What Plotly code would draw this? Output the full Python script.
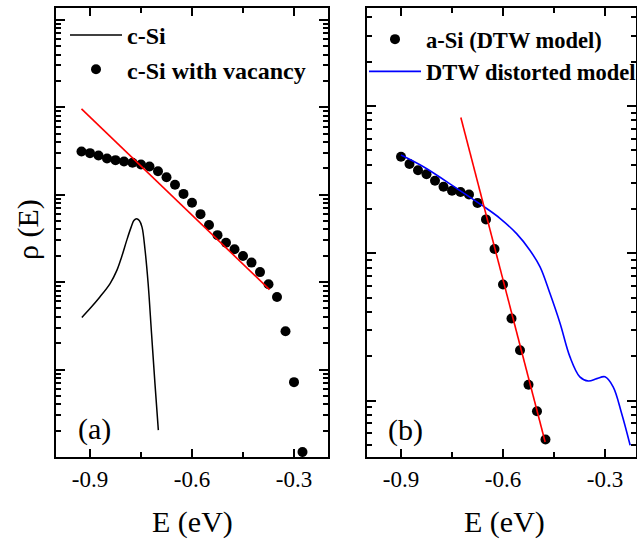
import plotly.graph_objects as go

# ---------------- data ----------------
# panel (a)
a_vac_x = [-0.925, -0.9, -0.875, -0.85, -0.825, -0.8, -0.775, -0.75, -0.725, -0.7,
           -0.675, -0.65, -0.625, -0.6, -0.575, -0.55, -0.525, -0.5, -0.475, -0.45,
           -0.425, -0.4, -0.375, -0.35, -0.325, -0.3, -0.275]
a_vac_y = [0.0311, 0.0298, 0.0280, 0.0259, 0.0248, 0.0239, 0.0231, 0.0221, 0.0210, 0.0185,
           0.0158, 0.0130, 0.0102, 0.00809, 0.00598, 0.00449, 0.00344, 0.00282, 0.00237, 0.00199,
           0.00167, 0.00130, 0.000944, 0.000676, 0.000274, 0.0000718, 0.0000114]
a_csi_x = [-0.924, -0.9, -0.871, -0.841, -0.821, -0.807, -0.792, -0.779, -0.771, -0.763,
           -0.755, -0.747, -0.738, -0.729, -0.719, -0.709, -0.699]
a_csi_y = [0.000394, 0.000498, 0.000676, 0.000962, 0.00136, 0.00194, 0.0030, 0.00425, 0.00505, 0.00531,
           0.00505, 0.00425, 0.00231, 0.000962, 0.000258, 0.0000695, 0.0000203]
a_fit_x = [-0.925, -0.372]
a_fit_y = [0.0957, 0.00082]

# panel (b)
b_dtw_x = [-0.9, -0.875, -0.85, -0.825, -0.8, -0.775, -0.75, -0.725, -0.7, -0.675,
           -0.65, -0.625, -0.6, -0.575, -0.55, -0.525, -0.5, -0.475]
b_dtw_y = [0.0453, 0.0404, 0.0367, 0.0344, 0.0311, 0.0283, 0.0266, 0.0261, 0.0251, 0.0220,
           0.0170, 0.0107, 0.00615, 0.00361, 0.00220, 0.00128, 0.000847, 0.000544]
b_dist_x = [-0.9, -0.834, -0.736, -0.658, -0.609, -0.56, -0.521, -0.491, -0.462, -0.432,
            -0.403, -0.374, -0.349, -0.324, -0.3, -0.276, -0.251, -0.226]
b_dist_y = [0.0465, 0.0387, 0.0276, 0.0209, 0.0173, 0.0136, 0.0105, 0.00809, 0.00535, 0.00334,
            0.00198, 0.00145, 0.00136, 0.00141, 0.00145, 0.00124, 0.000817, 0.000498]
b_fit_x = [-0.724, -0.476]
b_fit_y = [0.0837, 0.000524]

x_ticks = [-0.9, -0.6, -0.3]
x_tick_text = ["-0.9", "-0.6", "-0.3"]
x_minor = [-0.75, -0.45]

SERIF = "Liberation Serif"

fig = go.Figure()

# panel (a)
fig.add_trace(go.Scatter(x=a_csi_x, y=a_csi_y, mode="lines", name="c-Si",
                         line=dict(color="black", width=1.5, shape="spline"),
                         xaxis="x", yaxis="y", legend="legend"))
fig.add_trace(go.Scatter(x=a_vac_x, y=a_vac_y, mode="markers", name="c-Si with vacancy",
                         marker=dict(color="black", size=10),
                         xaxis="x", yaxis="y", legend="legend"))
fig.add_trace(go.Scatter(x=a_fit_x, y=a_fit_y, mode="lines", showlegend=False,
                         line=dict(color="#ff0000", width=1.6),
                         xaxis="x", yaxis="y"))

# panel (b)
fig.add_trace(go.Scatter(x=b_dtw_x, y=b_dtw_y, mode="markers", name="a-Si (DTW model)",
                         marker=dict(color="black", size=10),
                         xaxis="x2", yaxis="y2", legend="legend2"))
fig.add_trace(go.Scatter(x=b_dist_x, y=b_dist_y, mode="lines", name="DTW distorted model",
                         line=dict(color="#0000ff", width=1.6, shape="spline"),
                         xaxis="x2", yaxis="y2", legend="legend2"))
fig.add_trace(go.Scatter(x=b_fit_x, y=b_fit_y, mode="lines", showlegend=False,
                         line=dict(color="#ff0000", width=1.6),
                         xaxis="x2", yaxis="y2"))

W, H = 637, 540
L, R, T, B = 56, 1, 8, 83
pw, ph = W - L - R, H - T - B


def px_x(p):
    return (p - L) / pw


def px_y(p):
    return (H - B - p) / ph


def xaxis_cfg(rng, dom):
    return dict(type="linear", range=rng, domain=dom, showline=True, linecolor="black",
                linewidth=1.8, mirror="ticks", ticks="inside", ticklen=8, tickwidth=1.5,
                tickcolor="black", tickvals=x_ticks, ticktext=x_tick_text,
                tickfont=dict(family=SERIF, size=23, color="black"),
                ticklabelstandoff=0,
                minor=dict(tickvals=x_minor, ticks="inside", ticklen=5, tickwidth=1.5,
                           tickcolor="black"),
                showgrid=False, zeroline=False)


def decades(lo, hi):
    return [10.0 ** k for k in range(lo, hi + 1)]


def minors(lo, hi):
    return [m * 10.0 ** k for k in range(lo, hi + 1) for m in range(2, 10)]


def yaxis_cfg(rng, anchor, lo, hi):
    return dict(type="log", range=rng, anchor=anchor, domain=[0, 1], showline=True,
                linecolor="black", linewidth=1.8, mirror="ticks", ticks="inside",
                ticklen=9, tickwidth=1.5, tickcolor="black", tickvals=decades(lo, hi),
                showticklabels=False,
                minor=dict(tickvals=minors(lo - 1, hi), ticks="inside", ticklen=5,
                           tickwidth=1.5, tickcolor="black"),
                showgrid=False, zeroline=False)


fig.update_layout(
    width=W, height=H,
    margin=dict(l=L, r=R, t=T, b=B, autoexpand=False),
    paper_bgcolor="white", plot_bgcolor="white",
    font=dict(family=SERIF, color="black"),
    xaxis=xaxis_cfg([-1.0, -0.2], [0, px_x(328)]),
    yaxis=yaxis_cfg([-5.0, 0.134], "x", -5, 0),
    xaxis2=xaxis_cfg([-1.0, -0.2088], [px_x(367), 1]),
    yaxis2=yaxis_cfg([-3.383, -0.334], "x2", -3, -1),
    legend=dict(x=px_x(65), y=px_y(13), xanchor="left", yanchor="top",
                bgcolor="rgba(0,0,0,0)", borderwidth=0,
                font=dict(family=SERIF, size=24, color="black", weight="bold"),
                itemwidth=52, tracegroupgap=0),
    legend2=dict(x=px_x(364), y=px_y(18), xanchor="left", yanchor="top",
                 bgcolor="rgba(0,0,0,0)", borderwidth=0,
                 font=dict(family=SERIF, size=22.5, color="black", weight="bold"),
                 itemwidth=52, tracegroupgap=0),
    showlegend=True,
    annotations=[
        dict(text="ρ (E)", x=px_x(28), y=px_y(230), xref="paper", yref="paper",
             showarrow=False, textangle=-90, font=dict(family=SERIF, size=30),
             xanchor="center", yanchor="middle"),
        dict(text="E (eV)", x=px_x(192), y=px_y(522), xref="paper", yref="paper",
             showarrow=False, font=dict(family=SERIF, size=30),
             xanchor="center", yanchor="middle"),
        dict(text="E (eV)", x=px_x(504), y=px_y(522), xref="paper", yref="paper",
             showarrow=False, font=dict(family=SERIF, size=30),
             xanchor="center", yanchor="middle"),
        dict(text="(a)", x=px_x(94), y=px_y(429), xref="paper", yref="paper",
             showarrow=False, font=dict(family=SERIF, size=30),
             xanchor="center", yanchor="middle"),
        dict(text="(b)", x=px_x(405), y=px_y(430), xref="paper", yref="paper",
             showarrow=False, font=dict(family=SERIF, size=30),
             xanchor="center", yanchor="middle"),
    ],
)

fig.write_html("out.html", config={"displayModeBar": False},
               post_script="document.body.style.margin='0';document.body.style.overflow='hidden';")
